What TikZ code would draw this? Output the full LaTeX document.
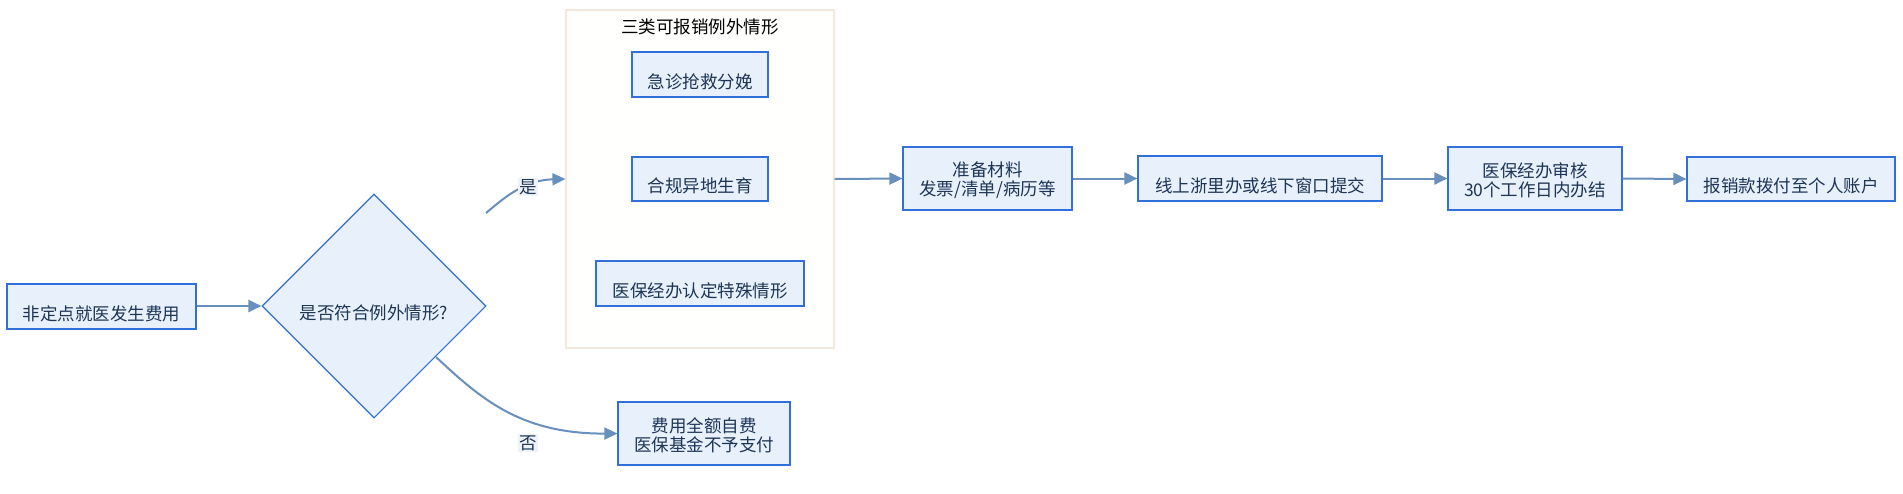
\documentclass[tikz,border=0pt]{standalone}
\usepackage{fontspec}
\newfontfamily\cjk{Noto Sans CJK SC}
\usetikzlibrary{shapes.geometric,arrows.meta}
\definecolor{boxfill}{HTML}{E8F0FC}
\definecolor{boxline}{HTML}{3070D8}
\definecolor{edgec}{HTML}{6890BC}
\definecolor{txt}{HTML}{1E3556}
\definecolor{clfill}{HTML}{FFFFFD}
\definecolor{clline}{HTML}{F2E8DE}
\definecolor{lblbg}{HTML}{EEF3FA}
\tikzset{
  base/.style={font=\cjk\fontsize{17.5}{19}\selectfont, text=txt, inner sep=0pt, align=center},
  proc/.style={base, rectangle, draw=boxline, fill=boxfill, line width=1.2pt},
  decision/.style={base, diamond, draw=boxline, fill=boxfill, line width=1.1pt, aspect=1},
  cluster/.style={rectangle, draw=clline, fill=clfill, line width=1.2pt, inner sep=0pt},
  flow/.style={draw=edgec, line width=2pt, -{Triangle[length=13pt,width=12pt]}},
  lbl/.style={base, fill=lblbg, inner sep=1pt},
}
\newcommand{\dn}[1]{\raisebox{-7pt}[\height][\depth]{#1}}
\newcommand{\two}[2]{\raisebox{-2pt}[\height][\depth]{\shortstack{#1\\#2}}}
\begin{document}
\begin{tikzpicture}[x=1pt,y=-1pt]
\useasboundingbox (0,0) rectangle (1903,493);
\fill[white] (0,0) rectangle (1903,493);

\node[cluster, minimum width=268pt, minimum height=338pt] (cl) at (700,179) {};
\node[base, text=black] (cltitle) at (700,27) {三类可报销例外情形};
\node[proc, minimum width=136pt, minimum height=45pt] (e1) at (700,74.5) {\dn{急诊抢救分娩}};
\node[proc, minimum width=136pt, minimum height=44pt] (e2) at (700,179) {\dn{合规异地生育}};
\node[proc, minimum width=208pt, minimum height=45pt] (e3) at (700,283.5) {\dn{医保经办认定特殊情形}};

\node[proc, minimum width=189pt, minimum height=45pt] (start) at (101.5,306.5) {\dn{非定点就医发生费用}};
\node[decision, minimum width=224pt, minimum height=224pt] (dec) at (374,306) {\dn{是否符合例外情形?}};

\node[proc, minimum width=169pt, minimum height=63pt] (prep) at (987.5,178.5) {\two{准备材料}{发票/清单/病历等}};
\node[proc, minimum width=244pt, minimum height=45pt] (submit) at (1260,178.5) {\dn{线上浙里办或线下窗口提交}};
\node[proc, minimum width=174pt, minimum height=63pt] (audit) at (1535,178.5) {\two{医保经办审核}{30个工作日内办结}};
\node[proc, minimum width=208pt, minimum height=44pt] (pay) at (1791,179) {\dn{报销款拨付至个人账户}};

\node[proc, minimum width=172pt, minimum height=63pt] (self) at (704,433.5) {\two{费用全额自费}{医保基金不予支付}};

\coordinate (yesstart) at (486,213);
\coordinate (nostart) at (436,357);

\draw[flow] (start.east |- dec.west) -- (dec.west);
\draw[flow] (yesstart) .. controls (505,197) and (525,180) .. (cl.west);
\node[lbl] (yeslbl) at (528,187) {是};
\draw[flow] (nostart) .. controls (480,398) and (520,434) .. (self.west);
\node[lbl] (nolbl) at (528,443) {否};

\draw[flow] (cl.east) -- (prep.west);
\draw[flow] (prep.east) -- (submit.west);
\draw[flow] (submit.east) -- (audit.west);
\draw[flow] (audit.east) -- (pay.west);
\end{tikzpicture}
\end{document}
